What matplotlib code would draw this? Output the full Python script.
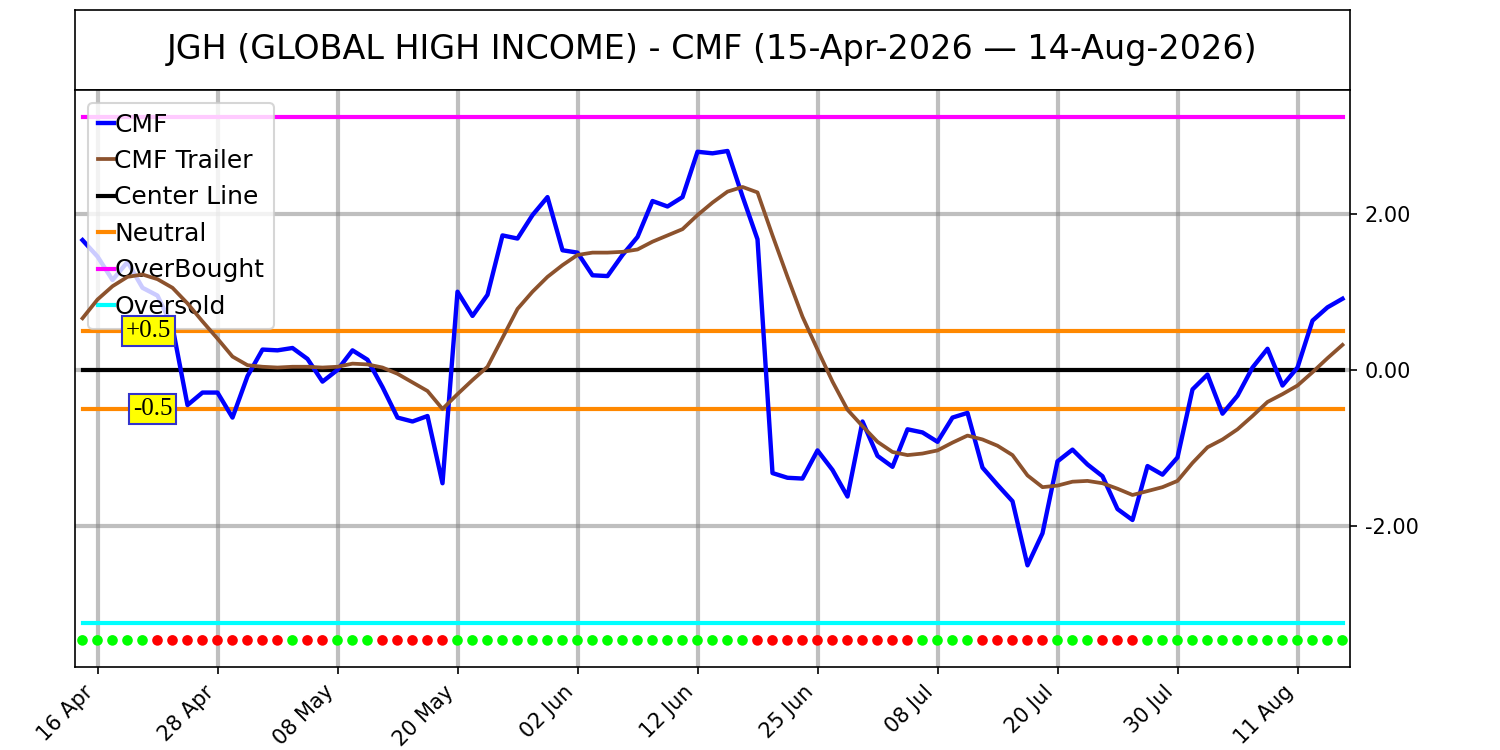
import numpy as np
import matplotlib
matplotlib.use("Agg")
import matplotlib.pyplot as plt

# CMF values per trading day, 15-Apr-2026 .. 14-Aug-2026
cmf = [1.66, 1.45, 1.15, 1.38, 1.05, 0.95, 0.55, -0.45, -0.29, -0.29,
       -0.61, -0.08, 0.26, 0.25, 0.28, 0.14, -0.15, 0.00, 0.25, 0.13,
       -0.22, -0.61, -0.66, -0.59, -1.45, 1.00, 0.69, 0.96, 1.72, 1.68,
       1.98, 2.21, 1.53, 1.50, 1.21, 1.20, 1.47, 1.70, 2.16, 2.09,
       2.21, 2.79, 2.77, 2.80, 2.22, 1.67, -1.32, -1.38, -1.39, -1.03,
       -1.28, -1.62, -0.66, -1.10, -1.24, -0.76, -0.80, -0.92, -0.61, -0.55,
       -1.25, -1.47, -1.68, -2.50, -2.09, -1.17, -1.02, -1.21, -1.36, -1.78,
       -1.92, -1.23, -1.34, -1.12, -0.25, -0.06, -0.56, -0.33, 0.03, 0.27,
       -0.20, 0.03, 0.63, 0.80, 0.91]

trailer = [0.66, 0.90, 1.07, 1.19, 1.22, 1.16, 1.05, 0.85, 0.62, 0.40,
           0.17, 0.06, 0.04, 0.03, 0.04, 0.04, 0.03, 0.04, 0.08, 0.07,
           0.03, -0.05, -0.16, -0.27, -0.50, -0.31, -0.13, 0.04, 0.41, 0.78,
           1.00, 1.19, 1.34, 1.47, 1.50, 1.50, 1.51, 1.54, 1.64, 1.72,
           1.80, 1.98, 2.14, 2.28, 2.34, 2.27, 1.72, 1.19, 0.68, 0.26,
           -0.15, -0.51, -0.72, -0.92, -1.05, -1.09, -1.07, -1.03, -0.93, -0.84,
           -0.89, -0.97, -1.09, -1.35, -1.50, -1.48, -1.43, -1.42, -1.45, -1.52,
           -1.60, -1.55, -1.50, -1.42, -1.19, -0.99, -0.89, -0.76, -0.59, -0.41,
           -0.31, -0.20, -0.03, 0.15, 0.32]

# signal dots along the bottom: G = green, R = red
signal = list("GGGGG" "RRRRRRRRR" "G" "RR" "GGG" "RRRRR"
              "GGGGGGGGGGGGGGGGGGGG" "RRRRRRRRRRR" "GGGG" "RRRRR"
              "GGG" "RRR" "GGGGGGGGGGGGGG")

tick_labels = ['16 Apr', '28 Apr', '08 May', '20 May', '02 Jun', '12 Jun',
               '25 Jun', '08 Jul', '20 Jul', '30 Jul', '11 Aug']

center = 0.0
neutral_hi = 0.5
neutral_lo = -0.5
overbought = 3.24
oversold = -3.24
dot_level = -3.46

x = np.arange(len(cmf))
n = len(x)

fig = plt.figure(figsize=(10, 5), dpi=150)

# title box
tax = fig.add_axes([0.05, 0.88, 0.85, 0.1067])
tax.set_xticks([])
tax.set_yticks([])
tax.text(0.5, 0.5, 'JGH (GLOBAL HIGH INCOME) - CMF (15-Apr-2026 \u2014 14-Aug-2026)',
         ha='center', va='center', fontsize=16, transform=tax.transAxes)

ax = fig.add_axes([0.05, 0.1107, 0.85, 0.7693])

ax.plot(x, cmf, color='#0000ff', lw=2.1, label='CMF', zorder=5)
ax.plot(x, trailer, color='#8c522d', lw=1.8, label='CMF Trailer', zorder=6)
ax.plot(x, np.full(n, center), color='black', lw=2, label='Center Line', zorder=4)
ax.plot(x, np.full(n, neutral_hi), color='#ff8800', lw=2, label='Neutral', zorder=4)
ax.plot(x, np.full(n, neutral_lo), color='#ff8800', lw=2, zorder=4)
ax.plot(x, np.full(n, overbought), color='#ff00ff', lw=2, label='OverBought', zorder=4)
ax.plot(x, np.full(n, oversold), color='#00ffff', lw=2, label='Oversold', zorder=4)

colors = ['#00ff00' if s == 'G' else '#ff0000' for s in signal]
ax.scatter(x, np.full(n, dot_level), c=colors, s=26, edgecolors='none', zorder=5)

box = dict(boxstyle='square,pad=0.15', fc='yellow', ec='#3333cc', lw=1)
ax.text(4.4, neutral_hi, '+0.5', ha='center', va='center', fontsize=12,
        family='Liberation Serif', bbox=box, zorder=8)
ax.text(4.67, neutral_lo, '-0.5', ha='center', va='center', fontsize=12,
        family='Liberation Serif', bbox=box, zorder=8)

ax.set_xlim(-0.5, n - 0.5)
ax.set_ylim(-3.80, 3.58)
ax.set_xticks(np.arange(1, n, 8))
ax.set_xticklabels(tick_labels, rotation=45, ha='right')
ax.set_yticks([-2, 0, 2])
ax.set_yticklabels(['-2.00', '0.00', '2.00'])
ax.yaxis.tick_right()
ax.grid(True, color='gray', alpha=0.5, lw=2)

ax.legend(loc='upper left', fontsize=12, handlelength=0.65, handletextpad=0.02,
          labelspacing=0.5)

fig.savefig('out.png', dpi=150)
